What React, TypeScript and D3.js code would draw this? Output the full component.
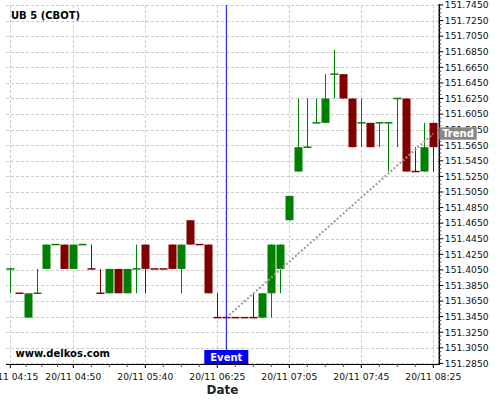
import React from 'react';
import * as d3 from 'd3';

const W = 500;
const H = 400;

// OHLC prices (UB futures quoted in 1/32)
const opens = [151.40625,151.375,151.34375,151.375,151.40625,151.4375,151.4375,151.40625,151.4375,151.40625,151.375,151.375,151.40625,151.375,151.40625,151.4375,151.40625,151.40625,151.4375,151.40625,151.46875,151.4375,151.4375,151.34375,151.34375,151.34375,151.34375,151.34375,151.34375,151.375,151.40625,151.46875,151.53125,151.5625,151.59375,151.59375,151.65625,151.65625,151.625,151.59375,151.59375,151.59375,151.59375,151.625,151.625,151.53125,151.53125,151.59375];
const closes = [151.40625,151.375,151.375,151.375,151.4375,151.4375,151.40625,151.4375,151.4375,151.40625,151.375,151.40625,151.375,151.40625,151.40625,151.40625,151.40625,151.40625,151.40625,151.4375,151.4375,151.4375,151.375,151.34375,151.34375,151.34375,151.34375,151.34375,151.375,151.4375,151.4375,151.5,151.5625,151.5625,151.59375,151.625,151.65625,151.625,151.5625,151.59375,151.5625,151.59375,151.59375,151.625,151.53125,151.53125,151.5625,151.5625];
const highs = [151.40625,151.375,151.375,151.40625,151.4375,151.4375,151.4375,151.4375,151.4375,151.4375,151.40625,151.40625,151.40625,151.40625,151.4375,151.4375,151.40625,151.40625,151.4375,151.4375,151.46875,151.4375,151.4375,151.375,151.34375,151.34375,151.34375,151.375,151.375,151.4375,151.4375,151.5,151.625,151.625,151.625,151.65625,151.6875,151.65625,151.625,151.625,151.59375,151.59375,151.59375,151.625,151.625,151.5625,151.59375,151.59375];
const lows = [151.375,151.375,151.34375,151.375,151.40625,151.4375,151.40625,151.40625,151.4375,151.40625,151.375,151.375,151.375,151.375,151.375,151.375,151.40625,151.40625,151.40625,151.375,151.4375,151.4375,151.375,151.34375,151.34375,151.34375,151.34375,151.34375,151.34375,151.34375,151.375,151.46875,151.53125,151.5625,151.59375,151.59375,151.625,151.625,151.5625,151.5625,151.5625,151.5625,151.53125,151.5625,151.53125,151.53125,151.53125,151.53125];
// 1 = up (green), 0 = down (red)
const bullish = [1,0,1,1,1,1,0,1,1,0,0,1,0,1,1,0,0,0,0,1,0,0,0,0,0,0,0,0,1,1,1,1,1,1,1,1,1,0,0,1,0,1,1,1,0,0,1,0];

const xTickIdx = [0, 7, 15, 23, 31, 39, 47];
const xTickLabels = ['20/11 04:15', '20/11 04:50', '20/11 05:40', '20/11 06:25', '20/11 07:05', '20/11 07:45', '20/11 08:25'];
const yTicks = [151.285,151.305,151.325,151.345,151.365,151.385,151.405,151.425,151.445,151.465,151.485,151.505,151.525,151.545,151.565,151.585,151.605,151.625,151.645,151.665,151.685,151.705,151.725,151.745];

const eventIdx = 24;
const trendStart = 151.34375;
const trendEnd = 151.58;

const title = 'UB 5 (CBOT)';

export default function App() {
  const plotL = 6, plotR = 439.3, plotT = 5, plotB = 364;
  const x = d3.scaleLinear().domain([0, 47]).range([10.3, 433.3]);
  const y = d3.scaleLinear().domain([151.285, 151.745]).range([363.4, 5]);
  const bw = 7;
  const green = '#008000';
  const red = '#800000';
  const font = 'DejaVu Sans';

  const minorX: number[] = [];
  for (let k = 0; k < xTickIdx.length - 1; k++) {
    const a = xTickIdx[k], b = xTickIdx[k + 1];
    for (let j = 1; j < 4; j++) minorX.push(a + ((b - a) * j) / 4);
  }
  const minorY: number[] = [];
  for (let k = 0; k < yTicks.length - 1; k++) {
    for (let j = 1; j < 4; j++) minorY.push(yTicks[k] + (0.02 * j) / 4);
  }

  const ex = x(eventIdx);
  const ty = y(trendEnd);

  return (
    <svg width={W} height={H} style={{ position: 'absolute', left: 0, top: 0, background: '#fff' }} fontFamily={font}>
      {/* grid */}
      {yTicks.map((t, i) => (
        <line key={'gy' + i} x1={plotL} x2={plotR} y1={Math.round(y(t)) + 0.5} y2={Math.round(y(t)) + 0.5} stroke="#cccccc" strokeDasharray="3 2" />
      ))}
      {xTickIdx.map((t, i) => (
        <line key={'gx' + i} x1={Math.round(x(t)) + 0.5} x2={Math.round(x(t)) + 0.5} y1={plotT} y2={plotB} stroke="#cccccc" strokeDasharray="3 2" />
      ))}

      {/* candles */}
      {opens.map((o, i) => {
        const c = closes[i];
        const col = bullish[i] ? green : red;
        const cx = Math.round(x(i)) + 0.5;
        const top = Math.max(o, c), bot = Math.min(o, c);
        const yt = y(top), yb = y(bot);
        return (
          <g key={'c' + i}>
            <line x1={cx} x2={cx} y1={y(highs[i])} y2={y(lows[i])} stroke={col} strokeWidth={1} />
            {yb - yt < 1.5 ? (
              <line x1={cx - bw / 2 - 0.5} x2={cx + bw / 2 + 0.5} y1={yt} y2={yt} stroke={col} strokeWidth={1.5} />
            ) : (
              <rect x={cx - bw / 2 - 0.5} y={yt} width={bw + 1} height={yb - yt} fill={col} />
            )}
          </g>
        );
      })}

      {/* trend line */}
      <line x1={ex} y1={y(trendStart)} x2={x(47)} y2={ty} stroke="#999999" strokeWidth={2} strokeDasharray="2 2" />

      {/* event line */}
      <line x1={ex} x2={ex} y1={plotT} y2={350} stroke="#0000ff" strokeWidth={1} />

      {/* axes */}
      <line x1={plotL} x2={plotR} y1={plotB + 0.5} y2={plotB + 0.5} stroke="#000" strokeWidth={1} />
      <line x1={plotR} x2={plotR} y1={plotT - 1} y2={plotB + 1} stroke="#000" strokeWidth={1.5} />
      {yTicks.map((t, i) => (
        <g key={'yt' + i}>
          <line x1={plotR} x2={plotR + 4} y1={y(t)} y2={y(t)} stroke="#000" />
          <text x={plotR + 5.5} y={y(t)} dy="0.36em" fontSize={9.2} fill="#111">{t.toFixed(4)}</text>
        </g>
      ))}
      {minorY.map((t, i) => (
        <line key={'my' + i} x1={plotR} x2={plotR + 2} y1={y(t)} y2={y(t)} stroke="#555" />
      ))}
      {xTickIdx.map((t, i) => (
        <g key={'xt' + i}>
          <line x1={x(t)} x2={x(t)} y1={plotB} y2={plotB + 4} stroke="#000" />
          <text x={x(t)} y={379.5} textAnchor="middle" fontSize={9.2} fill="#111">{xTickLabels[i]}</text>
        </g>
      ))}
      {minorX.map((t, i) => (
        <line key={'mx' + i} x1={x(t)} x2={x(t)} y1={plotB} y2={plotB + 3} stroke="#555" />
      ))}

      {/* labels */}
      <text x={11} y={19} fontSize={10} fontWeight="bold" fill="#000">{title}</text>
      <text x={15.5} y={357.3} fontSize={10} fontWeight="bold" fill="#000">www.delkos.com</text>
      <text x={222.5} y={394} textAnchor="middle" fontSize={12} fontWeight="bold" fill="#222">Date</text>

      <rect x={ex - 22} y={350} width={44} height={14} fill="#0000ff" />
      <text x={ex} y={361} textAnchor="middle" fontSize={10} fontWeight="bold" fill="#fff">Event</text>

      <rect x={plotR} y={ty - 6.2} width={37.4} height={12.4} fill="#888888" />
      <text x={plotR + 18.7} y={ty + 3.6} textAnchor="middle" fontSize={10} fontWeight="bold" fill="#fff">Trend</text>
    </svg>
  );
}
